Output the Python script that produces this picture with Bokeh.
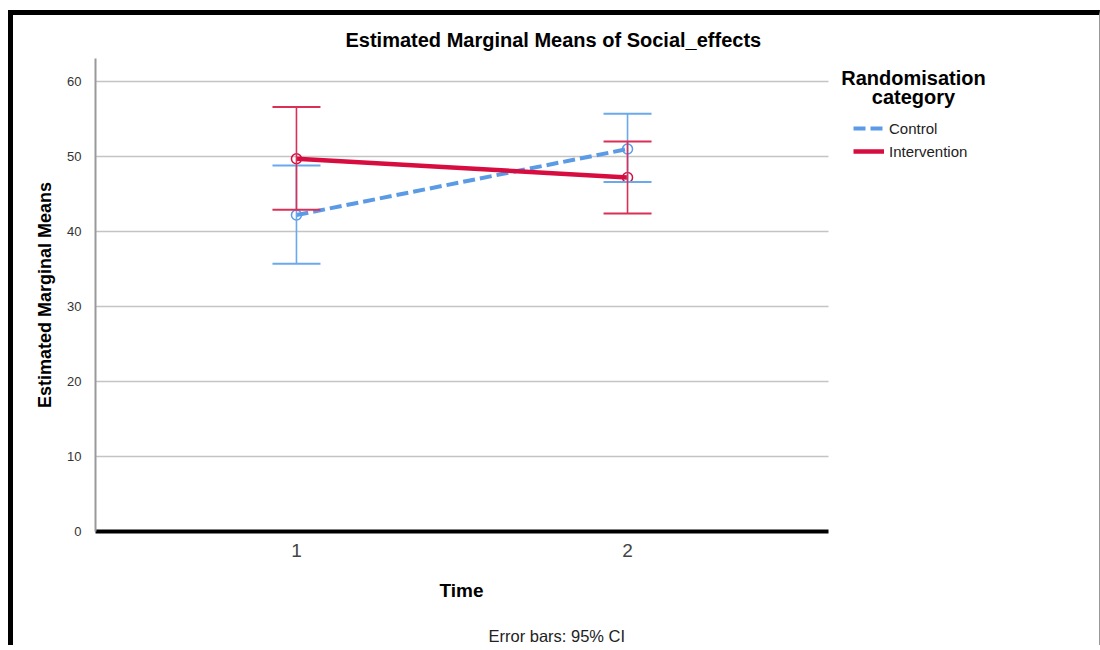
from bokeh.plotting import figure
from bokeh.models import (Range1d, FixedTicker, Whisker, TeeHead, ColumnDataSource,
                          Legend, LegendItem, Label, Title, Grid)
from bokeh.embed import file_html
from bokeh.resources import INLINE

# ---- data ----
times = [1, 2]
x_tick_labels = {1: "1", 2: "2"}
y_ticks = [0, 10, 20, 30, 40, 50, 60]

control_mean = [42.2, 51.0]
control_lower = [35.7, 46.6]
control_upper = [48.8, 55.7]

intervention_mean = [49.7, 47.2]
intervention_lower = [42.9, 42.4]
intervention_upper = [56.6, 52.0]

series_names = ["Control", "Intervention"]

FONT = "Liberation Sans"
BLUE = "#5b9be6"
BLUE_BAR = "#6aa9ee"
RED = "#d60d3e"
RED_BAR = "#da2f57"

# visible plotting area (data units) and layout
X_LO, X_HI = 0.393, 2.607
Y_LO, Y_HI = 0.0, 63.07
PLOT_PX = 733            # width in pixels of the drawn plotting area
FRAME_PX = 1000          # frame extends further right to hold the legend
x_end = X_LO + (X_HI - X_LO) * FRAME_PX / PLOT_PX

p = figure(width=1092, height=635, output_backend="svg", toolbar_location=None,
           x_range=Range1d(X_LO, x_end), y_range=Range1d(Y_LO, Y_HI),
           min_border_left=82, min_border_right=1092 - 82 - FRAME_PX, min_border_top=43,
           min_border_bottom=119)
p.styles = {"margin-left": "8px", "margin-top": "10px",
            "border-left": "5px solid black", "border-top": "5px solid black",
            "border-right": "1px solid #999999"}
p.outline_line_color = None
p.background_fill_color = "white"
p.border_fill_color = "white"

# title
p.title.text = "Estimated Marginal Means of Social_effects"
p.title.align = "left"
p.title.offset = 250
p.title.text_font = FONT
p.title.text_font_size = "20px"
p.title.text_font_style = "bold"
p.title.text_color = "black"
p.title.standoff = 15

# grid (horizontal lines limited to the plotting area)
p.xgrid.visible = False
if "cross_bounds" in Grid.properties():
    p.ygrid.cross_bounds = (X_LO, X_HI)
    p.ygrid.grid_line_color = "#c4c4c4"
    p.ygrid.grid_line_width = 1.3
    p.ygrid.ticker = FixedTicker(ticks=y_ticks)
else:
    p.ygrid.visible = False
    p.segment(x0=[X_LO] * len(y_ticks), x1=[X_HI] * len(y_ticks), y0=y_ticks, y1=y_ticks,
              line_color="#c4c4c4", line_width=1.3, level="underlay")

# y axis
p.yaxis.ticker = FixedTicker(ticks=y_ticks)
p.yaxis.axis_line_color = "#999999"
p.yaxis.axis_line_width = 2
p.yaxis.major_tick_line_color = None
p.yaxis.minor_tick_line_color = None
p.yaxis.major_label_standoff = 8
p.yaxis.major_label_text_font = FONT
p.yaxis.major_label_text_font_size = "13px"
p.yaxis.major_label_text_color = "#333333"
p.yaxis.axis_label = "Estimated Marginal Means"
p.yaxis.axis_label_text_font = FONT
p.yaxis.axis_label_text_font_size = "18px"
p.yaxis.axis_label_text_font_style = "bold"
p.yaxis.axis_label_text_color = "black"
p.yaxis.axis_label_standoff = 9

# x axis
p.xaxis.bounds = (X_LO, X_HI)
p.xaxis.ticker = FixedTicker(ticks=times)
p.xaxis.major_label_overrides = x_tick_labels
p.xaxis.axis_line_color = "black"
p.xaxis.axis_line_width = 4
p.xaxis.major_tick_line_color = None
p.xaxis.minor_tick_line_color = None
p.xaxis.major_label_standoff = 6
p.xaxis.major_label_text_font = FONT
p.xaxis.major_label_text_font_size = "19px"
p.xaxis.major_label_text_color = "#444444"

# x axis title, centred under the plotting area (not the wider frame)
time_title = Title(text="Time", align="left", offset=344,
                   text_font=FONT, text_font_size="19px", text_font_style="bold",
                   text_color="black", standoff=37)
p.add_layout(time_title, "below")

note = Title(text="Error bars: 95% CI", align="left", offset=393,
             text_font=FONT, text_font_size="16.5px", text_font_style="normal",
             text_color="#222222", standoff=11)
p.add_layout(note, "below")

# ---- sources ----
src_c = ColumnDataSource(dict(x=times, mean=control_mean, lower=control_lower, upper=control_upper))
src_i = ColumnDataSource(dict(x=times, mean=intervention_mean, lower=intervention_lower, upper=intervention_upper))

# error bars
for src, col in ((src_c, BLUE_BAR), (src_i, RED_BAR)):
    w = Whisker(base="x", upper="upper", lower="lower", source=src,
                line_color=col, line_width=1.6, level="glyph",
                upper_head=TeeHead(size=48, line_color=col, line_width=2),
                lower_head=TeeHead(size=48, line_color=col, line_width=2))
    p.add_layout(w)

# lines
c_line = p.line("x", "mean", source=src_c, line_color=BLUE, line_width=4, line_dash="12 5")
i_line = p.line("x", "mean", source=src_i, line_color=RED, line_width=4.5)

# markers
p.scatter("x", "mean", source=src_c, size=10, marker="circle", line_color=BLUE,
          line_width=1.5, fill_alpha=0)
p.scatter("x", "mean", source=src_i, size=10, marker="circle", line_color=RED,
          line_width=1.5, fill_alpha=0)

# legend
legend = Legend(items=[LegendItem(label=series_names[0], renderers=[c_line]),
                       LegendItem(label=series_names[1], renderers=[i_line])],
                location=(758, 370), padding=0, margin=0, border_line_color=None,
                background_fill_alpha=0, glyph_width=31, glyph_height=20,
                label_height=20, label_standoff=5, spacing=3,
                label_text_font=FONT, label_text_font_size="15px",
                label_text_color="#222222")
p.add_layout(legend)

for txt, yb in (("Randomisation", 454), ("category", 435)):
    p.add_layout(Label(x=818, y=yb, x_units="screen", y_units="screen",
                       text=txt, text_align="center", text_baseline="alphabetic",
                       text_font=FONT, text_font_size="20px", text_font_style="bold",
                       text_color="black"))

open("out.html", "w").write(file_html(p, INLINE))
